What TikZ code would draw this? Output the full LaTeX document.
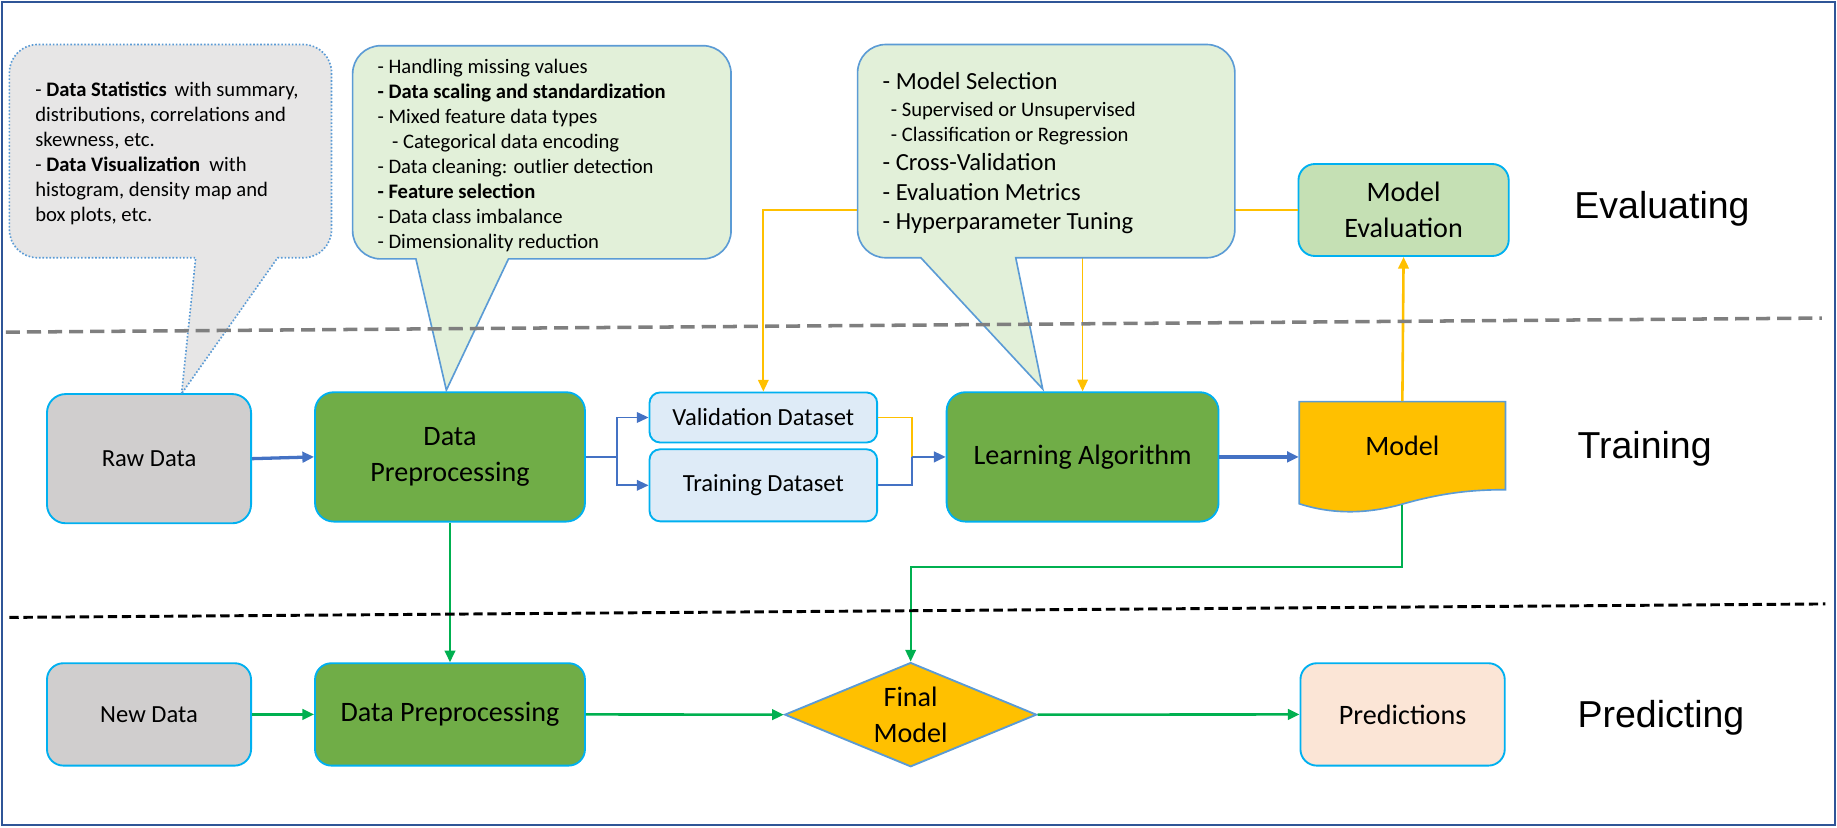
\documentclass[tikz,border=0pt]{standalone}
\usepackage{fontspec}
\setmainfont{Carlito}
\newfontfamily\hdrfont{Liberation Sans}
\usetikzlibrary{arrows.meta,shapes.geometric,calc}
\definecolor{cyanb}{HTML}{00B0F0}
\definecolor{grayfill}{HTML}{D0CECE}
\definecolor{dkgreen}{HTML}{70AD47}
\definecolor{ltblue}{HTML}{DEEBF7}
\definecolor{megreen}{HTML}{C5E0B4}
\definecolor{bubgreen}{HTML}{E2F0D9}
\definecolor{bubgray}{HTML}{E7E6E6}
\definecolor{bubblue}{HTML}{5B9BD5}
\definecolor{peach}{HTML}{FBE5D6}
\definecolor{gold}{HTML}{FFC000}
\definecolor{bluec}{HTML}{4472C4}
\definecolor{greenc}{HTML}{00B050}
\definecolor{orangec}{HTML}{FFC000}
\definecolor{dashgray}{HTML}{7F7F7F}
\definecolor{frameblue}{HTML}{2F5597}
\begin{document}
\begin{tikzpicture}[x=0.5pt,y=-0.5pt,
  box/.style={draw=cyanb,line width=0.8pt,rounded corners=8pt,inner sep=0pt,align=center},
  sfont/.style={font=\fontsize{10.5}{12.8}\selectfont},
  mfont/.style={font=\fontsize{12}{15.25}\selectfont},
  bt/.style={font=\fontsize{8.8}{10.7}\selectfont,anchor=base west,inner sep=0pt},
  bm/.style={font=\fontsize{10.5}{12.8}\selectfont,anchor=base west,inner sep=0pt},
  hdr/.style={font=\hdrfont\fontsize{16}{19}\selectfont,anchor=base west,inner sep=0pt},
  arr/.style={-{Triangle[length=5pt,width=4.5pt]}}
]
\useasboundingbox (0,0) rectangle (1568,706);
\draw[frameblue,line width=0.9pt] (2,2) rectangle (1566,704);

% nodes
\node[box,fill=grayfill,minimum width=87.1pt,minimum height=55.15pt,sfont] (raw) at (127.2,391.5) {Raw Data};
\node[box,fill=dkgreen,minimum width=115.2pt,minimum height=55.2pt,mfont] (dp1) at (384.1,390) {Data\\Preprocessing};
\node[box,fill=ltblue,rounded corners=4.5pt,minimum width=97.15pt,minimum height=21.35pt,sfont] (val) at (651.55,356.35) {Validation Dataset};
\node[box,fill=ltblue,rounded corners=4.5pt,minimum width=97.15pt,minimum height=30.75pt,sfont] (train) at (651.55,414.25) {Training Dataset};
\node[box,fill=dkgreen,minimum width=116.05pt,minimum height=55.2pt,mfont] (la) at (924.05,390) {Learning Algorithm};
\node[box,fill=megreen,rounded corners=7pt,minimum width=89.75pt,minimum height=39.25pt,mfont] (me) at (1198.05,179.25) {Model\\Evaluation};
\node[box,fill=grayfill,rounded corners=7pt,minimum width=87.1pt,minimum height=43.7pt,sfont] (newd) at (127.2,609.8) {New Data};
\node[box,fill=dkgreen,rounded corners=7pt,minimum width=115.2pt,minimum height=43.7pt,mfont] (dp2) at (384.1,609.8) {Data Preprocessing};
\node[box,fill=peach,rounded corners=7pt,minimum width=87.2pt,minimum height=43.7pt,mfont] (pred) at (1197.2,609.8) {Predictions};
\node[diamond,aspect=2.4,draw=bubblue,line width=0.8pt,fill=gold,minimum width=107.5pt,minimum height=44.5pt,inner sep=0pt,align=center,mfont] (fm) at (777.3,610) {Final\\Model};

% model document
\node[minimum width=88pt,minimum height=44.1pt,inner sep=0pt] (modelbox) at (1197,386.9) {};
\path[draw=bubblue,line width=0.7pt,fill=gold] (1109,342.8) -- (1285,342.8) -- (1285,418)
  .. controls (1255,418) and (1230,421) .. (1198,430)
  .. controls (1170,438) and (1140,440) .. (1109,430) -- cycle;
\node[mfont,inner sep=0pt] (model) at (1197,380.3) {Model};

% connectors
\draw[bluec,line width=1.4pt,arr] (raw.east) -- (dp1.west);
\coordinate (br1) at (526.8,390);
\draw[bluec,line width=0.75pt,arr] (dp1.east) -- (br1) |- (val.west);
\draw[bluec,line width=0.75pt,arr] (br1) |- (train.west);
\coordinate (jn) at (778.7,390);
\draw[bluec,line width=0.75pt] (train.east) -| (jn);
\draw[orangec,line width=0.75pt] (val.east) -| (jn);
\draw[bluec,line width=1pt,arr] (jn) -- (la.west);
\draw[bluec,line width=1.4pt,arr] (la.east) -- (la.east -| modelbox.west);
\draw[orangec,line width=1.1pt,arr] (modelbox.north) -- (me.south);
\draw[orangec,line width=0.75pt,arr] (me.west) -| (val.north);
\draw[orangec,line width=0.75pt,arr] (me.west -| la.north) -- (la.north);
\draw[greenc,line width=1pt,arr] (dp1.south) -- (dp2.north);
\draw[greenc,line width=1.1pt,arr] (newd.east) -- (dp2.west);
\draw[greenc,line width=1.1pt,arr] (dp2.east) -- (fm.west);
\draw[greenc,line width=1.1pt,arr] (fm.east) -- (pred.west);
\coordinate (gturn) at (1197,484.2);
\draw[greenc,line width=0.75pt,arr] (modelbox.south) -- (gturn) -| (fm.north);

% callout bubbles
\path[draw=bubblue,line width=0.7pt,dash pattern=on 0.7pt off 0.8pt,fill=bubgray]
  (155,336) -- (167,220) -- (32,220) .. controls (18.75,220) and (8,209.25) .. (8,196)
  -- (8,62) .. controls (8,48.75) and (18.75,38) .. (32,38)
  -- (259,38) .. controls (272.25,38) and (283,48.75) .. (283,62)
  -- (283,196) .. controls (283,209.25) and (272.25,220) .. (259,220) -- (237,220) -- cycle;
\path[draw=bubblue,line width=0.7pt,fill=bubgreen]
  (381,333) -- (355,221) -- (325,221) .. controls (311.75,221) and (301,210.25) .. (301,197)
  -- (301,63) .. controls (301,49.75) and (311.75,39) .. (325,39)
  -- (600,39) .. controls (613.25,39) and (624,49.75) .. (624,63)
  -- (624,197) .. controls (624,210.25) and (613.25,221) .. (600,221) -- (434,221) -- cycle;
\path[draw=bubblue,line width=0.7pt,fill=bubgreen]
  (890,332) -- (786,220) -- (756,220) .. controls (742.75,220) and (732,209.25) .. (732,196)
  -- (732,62) .. controls (732,48.75) and (742.75,38) .. (756,38)
  -- (1030,38) .. controls (1043.25,38) and (1054,48.75) .. (1054,62)
  -- (1054,196) .. controls (1054,209.25) and (1043.25,220) .. (1030,220) -- (867,220) -- cycle;

% bubble texts
\node[bt] (g1) at (29.8,82.4) {- \textbf{Data Statistics}\hspace{1.3pt} with summary,};
\node[bt] (g2) at (29.8,103.8) {distributions, correlations and};
\node[bt] (g3) at (29.8,125.1) {skewness, etc.};
\node[bt] (g4) at (29.8,146.4) {- \textbf{Data Visualization}\hspace{2pt} with};
\node[bt] (g5) at (29.8,167.8) {histogram, density map and};
\node[bt] (g6) at (29.8,189.1) {box plots, etc.};

\node[bt] (p1) at (321.9,62.5) {- Handling missing values};
\node[bt] (p2) at (321.9,83.8) {\textbf{- Data scaling and standardization}};
\node[bt] (p3) at (321.9,105.2) {- Mixed feature data types};
\node[bt] (p4) at (334.3,126.5) {- Categorical data encoding};
\node[bt] (p5) at (321.9,147.9) {- Data cleaning: outlier detection};
\node[bt] (p6) at (321.9,169.2) {\textbf{- Feature selection}};
\node[bt] (p7) at (321.9,190.5) {- Data class imbalance};
\node[bt] (p8) at (321.9,211.9) {- Dimensionality reduction};

\node[bm] (m1) at (753,76.4) {- Model Selection};
\node[bt] (m2) at (760,99.6) {- Supervised or Unsupervised};
\node[bt] (m3) at (760,120.9) {- Classification or Regression};
\node[bm] (m4) at (753,145.2) {- Cross-Validation};
\node[bm] (m5) at (753,170.9) {- Evaluation Metrics};
\node[bm] (m6) at (753,195.9) {- Hyperparameter Tuning};

% separators
\draw[dashgray,line width=1.5pt,dash pattern=on 6pt off 3pt] (5,283.5) -- (1555,271.5);
\draw[black,line width=1.25pt,dash pattern=on 4pt off 2pt] (8,527) -- (1558,515.5);

% stage labels
\node[hdr] (hev) at (1343.5,186.3) {Evaluating};
\node[hdr] (htr) at (1346.2,391.7) {Training};
\node[hdr] (hpr) at (1346.2,621) {Predicting};
\end{tikzpicture}
\end{document}
